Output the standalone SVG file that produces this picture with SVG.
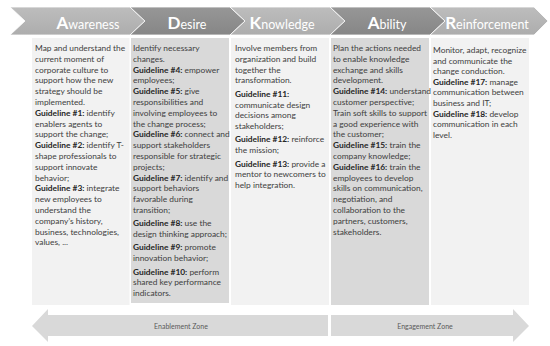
<svg xmlns="http://www.w3.org/2000/svg" width="550" height="346" viewBox="0 0 550 346">
<defs>
<linearGradient id="gLight" x1="0" y1="0" x2="0" y2="1">
<stop offset="0" stop-color="#bdbdbd"/><stop offset="1" stop-color="#adadad"/>
</linearGradient>
<linearGradient id="gDark" x1="0" y1="0" x2="0" y2="1">
<stop offset="0" stop-color="#979797"/><stop offset="1" stop-color="#868686"/>
</linearGradient>
</defs>
<style>
.chevL{fill:url(#gLight);stroke:#ffffff;stroke-width:0.8}
.chevD{fill:url(#gDark);stroke:#ffffff;stroke-width:0.8}
.head{font-family:Lato,"Liberation Sans",sans-serif;font-size:12.5px;fill:#ffffff;text-anchor:middle}
.cap{font-weight:bold;font-size:17px}
.colL{fill:#f2f2f2}
.colD{fill:#d9d9d9}
.body{font-family:Lato,"Liberation Sans",sans-serif;font-size:8.4px;fill:#404040}
.b{font-weight:bold;fill:#262626}
.zone{fill:#d9d9d9}
.zlab{font-family:Lato,"Liberation Sans",sans-serif;font-size:7px;fill:#595959;text-anchor:middle}
</style>
<rect width="550" height="346" fill="#ffffff"/>

<g id="awareness">
<path class="chevL" d="M10,7 L130,7 L145,21 L130,35 L10,35 L25,21 Z"/>
<text class="head" x="88" y="29"><tspan class="cap">A</tspan>wareness</text>
<rect class="colL" x="32" y="38" width="97.5" height="267"/>
<text class="body">
<tspan x="35" y="51">Map and understand the</tspan>
<tspan x="35" y="61.8">current moment of</tspan>
<tspan x="35" y="72.6">corporate culture to</tspan>
<tspan x="35" y="83.4">support how the new</tspan>
<tspan x="35" y="94.2">strategy should be</tspan>
<tspan x="35" y="105">implemented.</tspan>
<tspan x="35" y="115.8"><tspan class="b">Guideline #1:</tspan> identify</tspan>
<tspan x="35" y="126.6">enablers agents to</tspan>
<tspan x="35" y="137.4">support the change;</tspan>
<tspan x="35" y="148.2"><tspan class="b">Guideline #2:</tspan> identify T-</tspan>
<tspan x="35" y="159">shape professionals to</tspan>
<tspan x="35" y="169.8">support innovate</tspan>
<tspan x="35" y="180.6">behavior;</tspan>
<tspan x="35" y="191.4"><tspan class="b">Guideline #3:</tspan> integrate</tspan>
<tspan x="35" y="202.2">new employees to</tspan>
<tspan x="35" y="213">understand the</tspan>
<tspan x="35" y="223.8">company’s history,</tspan>
<tspan x="35" y="234.6">business, technologies,</tspan>
<tspan x="35" y="245.4">values, ...</tspan>
</text>
</g>

<g id="desire">
<path class="chevD" d="M130,7 L230,7 L245,21 L230,35 L130,35 L145,21 Z"/>
<text class="head" x="187" y="29"><tspan class="cap">D</tspan>esire</text>
<rect class="colD" x="131" y="38" width="98" height="265"/>
<text class="body">
<tspan x="133" y="51">Identify necessary</tspan>
<tspan x="133" y="61.8">changes.</tspan>
<tspan x="133" y="72.6"><tspan class="b">Guideline #4:</tspan> empower</tspan>
<tspan x="133" y="83.4">employees;</tspan>
<tspan x="133" y="94.2"><tspan class="b">Guideline #5:</tspan> give</tspan>
<tspan x="133" y="105">responsibilities and</tspan>
<tspan x="133" y="115.8">involving employees to</tspan>
<tspan x="133" y="126.6">the change process;</tspan>
<tspan x="133" y="137.4"><tspan class="b">Guideline #6:</tspan> connect and</tspan>
<tspan x="133" y="148.2">support stakeholders</tspan>
<tspan x="133" y="159">responsible for strategic</tspan>
<tspan x="133" y="169.8">projects;</tspan>
<tspan x="133" y="180.6"><tspan class="b">Guideline #7:</tspan> identify and</tspan>
<tspan x="133" y="191.4">support behaviors</tspan>
<tspan x="133" y="202.2">favorable during</tspan>
<tspan x="133" y="213">transition;</tspan>
<tspan x="133" y="226.3"><tspan class="b">Guideline #8:</tspan> use the</tspan>
<tspan x="133" y="237.1">design thinking approach;</tspan>
<tspan x="133" y="250.4"><tspan class="b">Guideline #9:</tspan> promote</tspan>
<tspan x="133" y="261.2">innovation behavior;</tspan>
<tspan x="133" y="274.5"><tspan class="b">Guideline #10:</tspan> perform</tspan>
<tspan x="133" y="285.3">shared key performance</tspan>
<tspan x="133" y="296.1">indicators.</tspan>
</text>
</g>

<g id="knowledge">
<path class="chevL" d="M230,7 L330,7 L345,21 L330,35 L230,35 L245,21 Z"/>
<text class="head" x="282" y="29"><tspan class="cap">K</tspan>nowledge</text>
<rect class="colL" x="231" y="38" width="98" height="267"/>
<text class="body">
<tspan x="235" y="51">Involve members from</tspan>
<tspan x="235" y="61.8">organization and build</tspan>
<tspan x="235" y="72.6">together the</tspan>
<tspan x="235" y="83.4">transformation.</tspan>
<tspan x="235" y="96.7" class="b">Guideline #11:</tspan>
<tspan x="235" y="107.5">communicate design</tspan>
<tspan x="235" y="118.3">decisions among</tspan>
<tspan x="235" y="129.1">stakeholders;</tspan>
<tspan x="235" y="142.4"><tspan class="b">Guideline #12:</tspan> reinforce</tspan>
<tspan x="235" y="153.2">the mission;</tspan>
<tspan x="235" y="166.5"><tspan class="b">Guideline #13:</tspan> provide a</tspan>
<tspan x="235" y="177.3">mentor to newcomers to</tspan>
<tspan x="235" y="188.1">help integration.</tspan>
</text>
</g>

<g id="ability">
<path class="chevD" d="M330,7 L430,7 L445,21 L430,35 L330,35 L345,21 Z"/>
<text class="head" x="387" y="29"><tspan class="cap">A</tspan>bility</text>
<rect class="colD" x="331" y="38" width="98" height="267"/>
<text class="body">
<tspan x="333" y="51">Plan the actions needed</tspan>
<tspan x="333" y="61.8">to enable knowledge</tspan>
<tspan x="333" y="72.6">exchange and skills</tspan>
<tspan x="333" y="83.4">development.</tspan>
<tspan x="333" y="94.2"><tspan class="b">Guideline #14:</tspan> understand</tspan>
<tspan x="333" y="105">customer perspective;</tspan>
<tspan x="333" y="115.8">Train soft skills to support</tspan>
<tspan x="333" y="126.6">a good experience with</tspan>
<tspan x="333" y="137.4">the customer;</tspan>
<tspan x="333" y="148.2"><tspan class="b">Guideline #15:</tspan> train the</tspan>
<tspan x="333" y="159">company knowledge;</tspan>
<tspan x="333" y="169.8"><tspan class="b">Guideline #16:</tspan>  train the</tspan>
<tspan x="333" y="180.6">employees to develop</tspan>
<tspan x="333" y="191.4">skills on communication,</tspan>
<tspan x="333" y="202.2">negotiation, and</tspan>
<tspan x="333" y="213">collaboration to the</tspan>
<tspan x="333" y="223.8">partners, customers,</tspan>
<tspan x="333" y="234.6">stakeholders.</tspan>
</text>
</g>

<g id="reinforcement">
<path class="chevL" d="M430,7 L534,7 L548,21 L534,35 L430,35 L445,21 Z"/>
<text class="head" x="487" y="29"><tspan class="cap">R</tspan>einforcement</text>
<rect class="colL" x="431" y="38" width="98" height="267"/>
<text class="body">
<tspan x="433" y="53">Monitor, adapt, recognize</tspan>
<tspan x="433" y="63.6">and communicate the</tspan>
<tspan x="433" y="74.2">change conduction.</tspan>
<tspan x="433" y="84.8"><tspan class="b">Guideline #17:</tspan> manage</tspan>
<tspan x="433" y="95.4">communication between</tspan>
<tspan x="433" y="106">business and IT;</tspan>
<tspan x="433" y="116.6"><tspan class="b">Guideline #18:</tspan> develop</tspan>
<tspan x="433" y="127.2">communication in each</tspan>
<tspan x="433" y="137.8">level.</tspan>
</text>
</g>

<g id="connectors">
<g id="enablement-zone">
<path class="zone" d="M32,326 L48,309 L48,315 L328,315 L328,336 L48,336 L48,342 Z"/>
<text class="zlab" x="181" y="328.5">Enablement Zone</text>
</g>
<g id="engagement-zone">
<path class="zone" d="M331,315 L513,315 L513,309 L529,326 L513,342 L513,336 L331,336 Z"/>
<text class="zlab" x="425" y="328.5">Engagement Zone</text>
</g>
</g>
</svg>
